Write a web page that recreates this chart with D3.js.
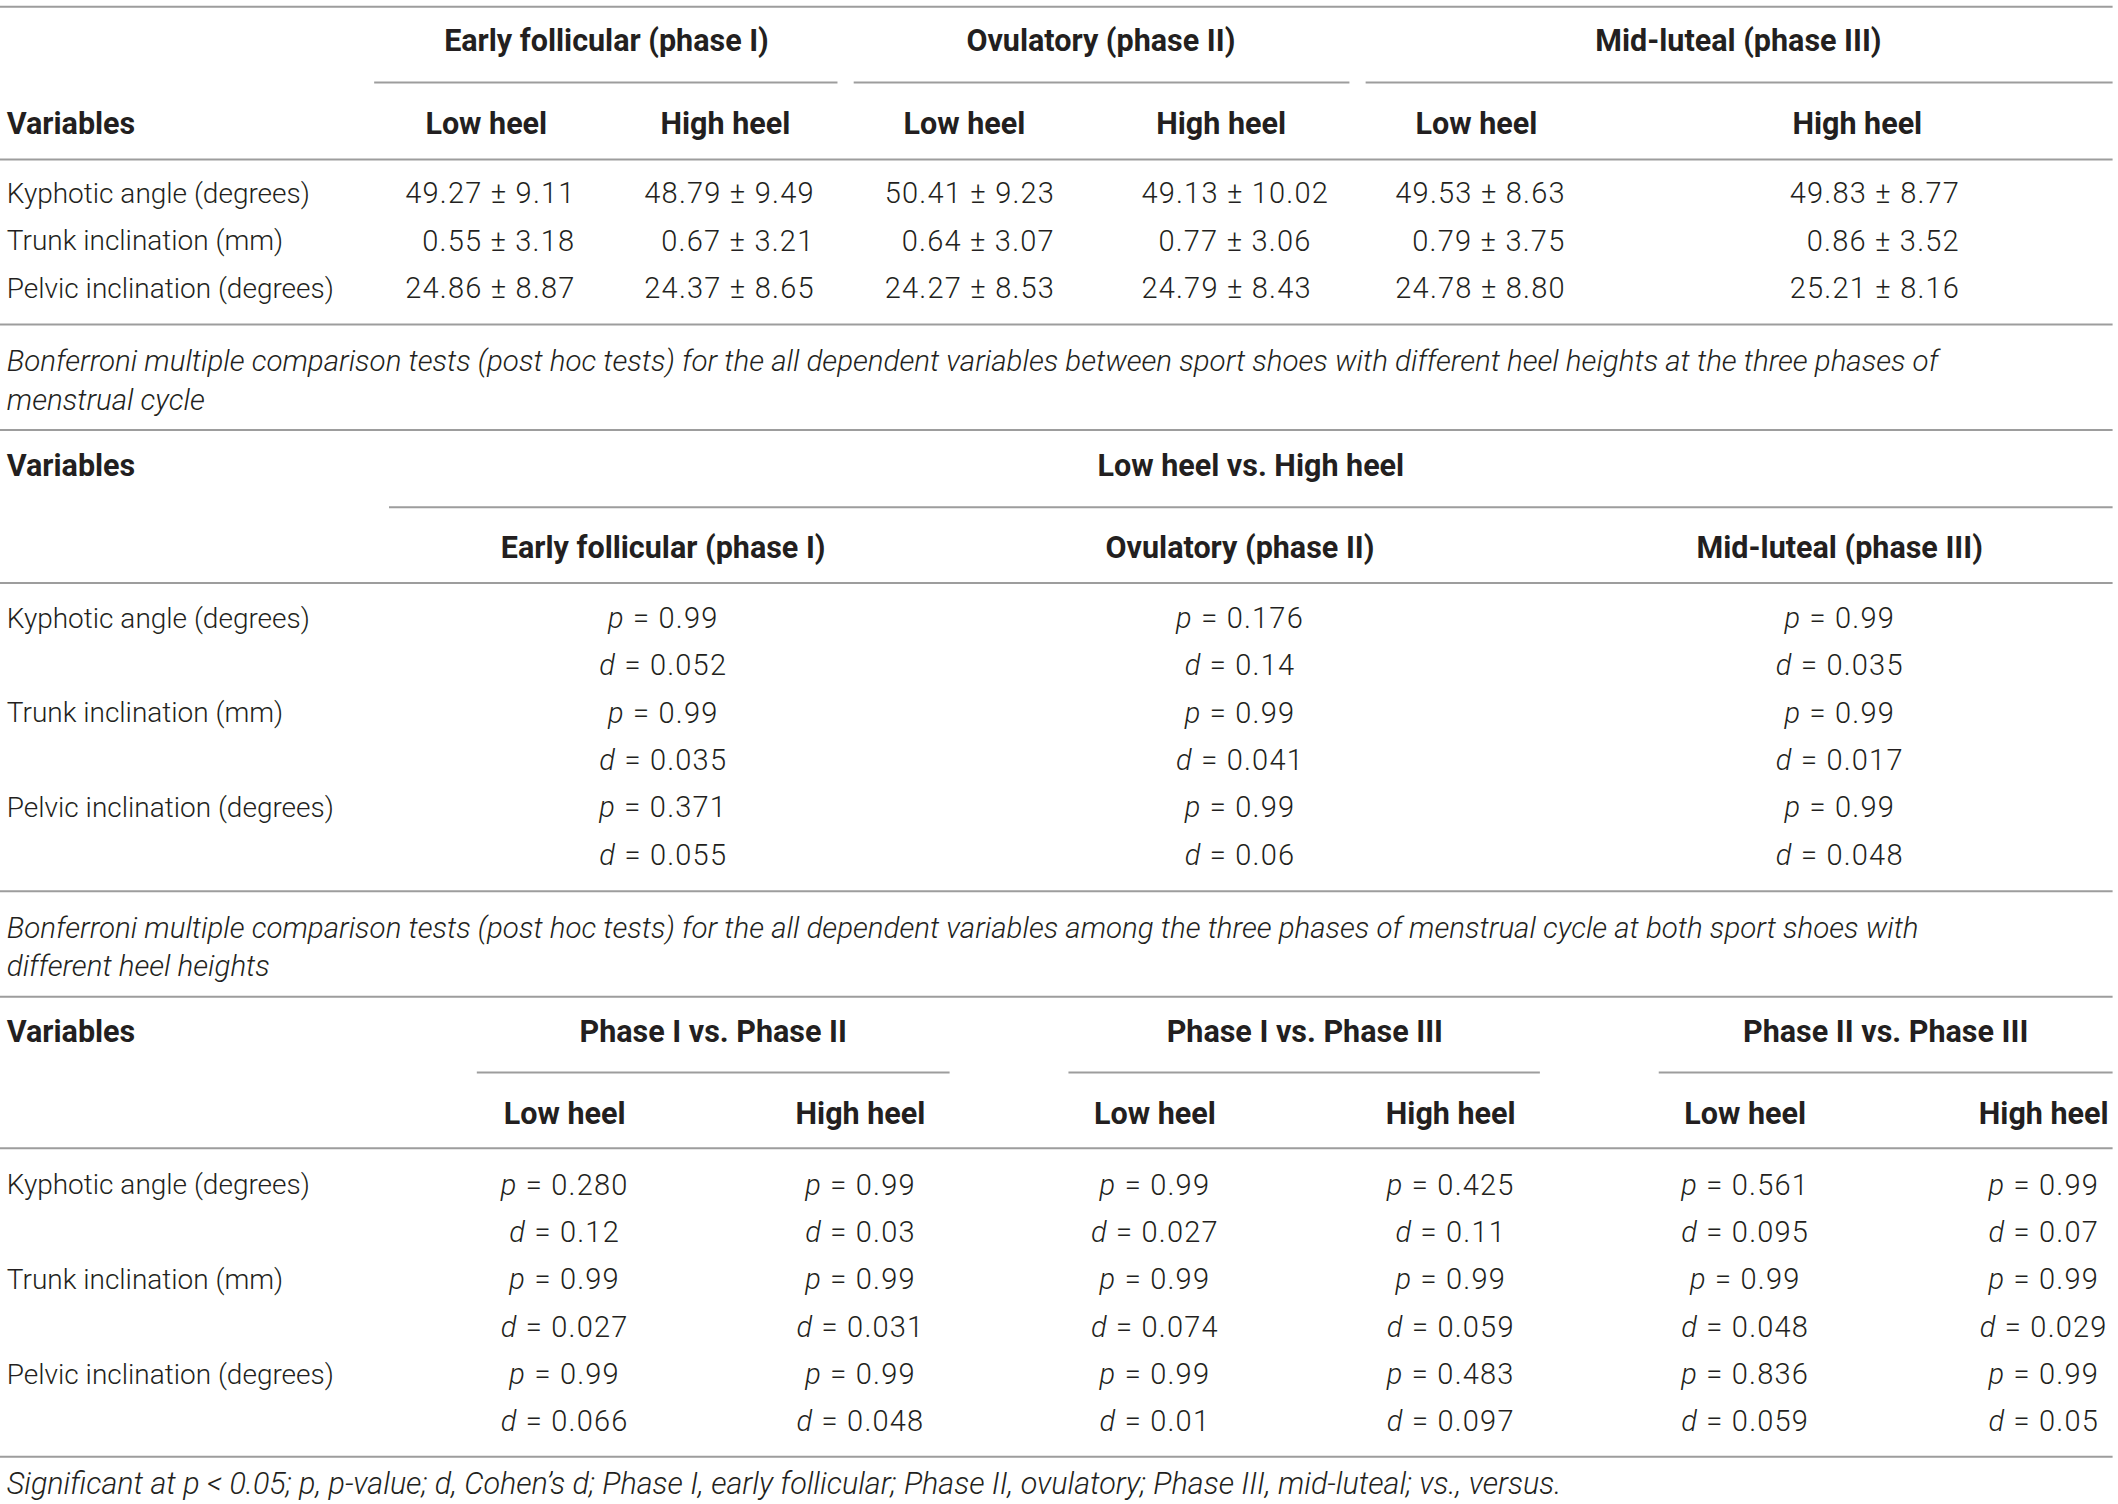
<!DOCTYPE html>
<html>
<head>
<meta charset="utf-8">
<script src="https://cdn.jsdelivr.net/npm/d3@7"></script>
<style>
  html, body { margin: 0; padding: 0; background: #fff; }
  svg text { font-family: Roboto, "Liberation Sans", sans-serif; fill: #231f20; }
  .body { font-weight: 300; font-size: 28px; }
  .num { font-weight: 300; font-size: 29px; letter-spacing: 1.2px; }
  .head { font-weight: 700; font-size: 30.5px; }
  .ital { font-style: italic; font-weight: 300; font-size: 29.5px; }
  .foot { font-style: italic; font-weight: 300; font-size: 30.5px; }
</style>
</head>
<body>
<div id="chart"></div>
<script>
// Table contents
const variables = ['Kyphotic angle (degrees)', 'Trunk inclination (mm)', 'Pelvic inclination (degrees)'];
const phases = ['Early follicular (phase I)', 'Ovulatory (phase II)', 'Mid-luteal (phase III)'];
const heels = ['Low heel', 'High heel'];
const comparisons = ['Phase I vs. Phase II', 'Phase I vs. Phase III', 'Phase II vs. Phase III'];

// descriptive stats: phase I low, phase I high, phase II low, phase II high, phase III low, phase III high
const meanValues = [
  [49.27, 48.79, 50.41, 49.13, 49.53, 49.83],
  [0.55, 0.67, 0.64, 0.77, 0.79, 0.86],
  [24.86, 24.37, 24.27, 24.79, 24.78, 25.21]
];
const sdValues = [
  [9.11, 9.49, 9.23, 10.02, 8.63, 8.77],
  [3.18, 3.21, 3.07, 3.06, 3.75, 3.52],
  [8.87, 8.65, 8.53, 8.43, 8.80, 8.16]
];

// low vs high heel, per phase
const heelP = [['0.99', '0.176', '0.99'], ['0.99', '0.99', '0.99'], ['0.371', '0.99', '0.99']];
const heelD = [['0.052', '0.14', '0.035'], ['0.035', '0.041', '0.017'], ['0.055', '0.06', '0.048']];

// phase comparisons: I-II low, I-II high, I-III low, I-III high, II-III low, II-III high
const phaseP = [
  ['0.280', '0.99', '0.99', '0.425', '0.561', '0.99'],
  ['0.99', '0.99', '0.99', '0.99', '0.99', '0.99'],
  ['0.99', '0.99', '0.99', '0.483', '0.836', '0.99']
];
const phaseD = [
  ['0.12', '0.03', '0.027', '0.11', '0.095', '0.07'],
  ['0.027', '0.031', '0.074', '0.059', '0.048', '0.029'],
  ['0.066', '0.048', '0.01', '0.097', '0.059', '0.05']
];

const caption1 = ['Bonferroni multiple comparison tests (post hoc tests) for the all dependent variables between sport shoes with different heel heights at the three phases of',
  'menstrual cycle'];
const caption2 = ['Bonferroni multiple comparison tests (post hoc tests) for the all dependent variables among the three phases of menstrual cycle at both sport shoes with',
  'different heel heights'];
const footnote = 'Significant at p < 0.05; p, p-value; d, Cohen\u2019s d; Phase I, early follicular; Phase II, ovulatory; Phase III, mid-luteal; vs., versus.';

// Layout (in 1568-wide design units, scaled to the page)
const width = 2118, height = 1504;
const x = d3.scaleLinear().domain([0, 1568]).range([0, width]);
const y = d3.scaleLinear().domain([0, 1112]).range([0, height]);

const svg = d3.select('#chart').append('svg')
  .attr('width', width)
  .attr('height', height);

function rule(yy, x0 = 0, x1 = 1564) {
  svg.append('line')
    .attr('x1', x(x0)).attr('x2', x(x1))
    .attr('y1', y(yy)).attr('y2', y(yy))
    .attr('stroke', '#9d9d9d')
    .attr('stroke-width', 2);
}

function label(str, xx, yy, cls, anchor = 'middle') {
  return svg.append('text')
    .attr('class', cls)
    .attr('x', x(xx)).attr('y', y(yy))
    .attr('dominant-baseline', 'central')
    .attr('text-anchor', anchor)
    .text(str);
}

// p = / d = cells with italic symbol
function stat(sym, val, xx, yy) {
  const t = svg.append('text')
    .attr('class', 'num')
    .attr('x', x(xx)).attr('y', y(yy))
    .attr('dominant-baseline', 'central')
    .attr('text-anchor', 'middle');
  t.append('tspan').style('font-style', 'italic').text(sym);
  t.append('tspan').text(' = ' + val);
}

const fmt = d3.format('.2f');

// ---- Section 1: descriptive stats
rule(5);
const phaseCenter1 = [449, 815, 1287];
const phaseLine1 = [[277, 620], [632, 999], [1011, 1564]];
phases.forEach((p, i) => {
  label(p, phaseCenter1[i], 30, 'head');
  rule(61, phaseLine1[i][0], phaseLine1[i][1]);
});
label('Variables', 5, 91, 'head', 'start');
const subCenter1 = [360, 537, 714, 904, 1093, 1375];
const valueLeft1 = [300, 477, 655, 845, 1033, 1325];
subCenter1.forEach((c, j) => label(heels[j % 2], c, 91, 'head'));
rule(118);

const rowY1 = d3.scalePoint().domain(d3.range(variables.length)).range([143, 213]);
variables.forEach((v, i) => {
  label(v, 5, rowY1(i), 'body', 'start');
  meanValues[i].forEach((m, j) => {
    const t = label(fmt(m) + ' \u00b1 ' + fmt(sdValues[i][j]), valueLeft1[j], rowY1(i), 'num', 'start');
    if (m < 10) t.attr('dx', 17);
  });
});
rule(240);
caption1.forEach((c, k) => label(c, 5, 267 + k * 29, 'ital', 'start'));
rule(318);

// ---- Section 2: low vs high heel
label('Variables', 5, 344, 'head', 'start');
label(heels[0] + ' vs. ' + heels[1], 926, 344, 'head');
rule(375, 288, 1564);
const colCenter2 = [491, 918, 1362];
phases.forEach((p, i) => label(p, colCenter2[i], 405, 'head'));
rule(431);
const rowY2 = d3.scalePoint().domain(d3.range(variables.length * 2)).range([457, 632]);
variables.forEach((v, i) => {
  label(v, 5, rowY2(i * 2), 'body', 'start');
  colCenter2.forEach((c, j) => {
    stat('p', heelP[i][j], c, rowY2(i * 2));
    stat('d', heelD[i][j], c, rowY2(i * 2 + 1));
  });
});
rule(659);
caption2.forEach((c, k) => label(c, 5, 686 + k * 28, 'ital', 'start'));
rule(737);

// ---- Section 3: phase comparisons
label('Variables', 5, 763, 'head', 'start');
const compCenter = [528, 966, 1396];
const compLine = [[353, 703], [791, 1140], [1228, 1564]];
comparisons.forEach((c, i) => {
  label(c, compCenter[i], 763, 'head');
  rule(793, compLine[i][0], compLine[i][1]);
});
const colCenter3 = [418, 637, 855, 1074, 1292, 1513];
colCenter3.forEach((c, j) => label(heels[j % 2], c, 823, 'head'));
rule(849);
const rowY3 = d3.scalePoint().domain(d3.range(variables.length * 2)).range([876, 1051]);
variables.forEach((v, i) => {
  label(v, 5, rowY3(i * 2), 'body', 'start');
  colCenter3.forEach((c, j) => {
    stat('p', phaseP[i][j], c, rowY3(i * 2));
    stat('d', phaseD[i][j], c, rowY3(i * 2 + 1));
  });
});
rule(1077);

label(footnote, 5, 1097, 'foot', 'start');
</script>
</body>
</html>
